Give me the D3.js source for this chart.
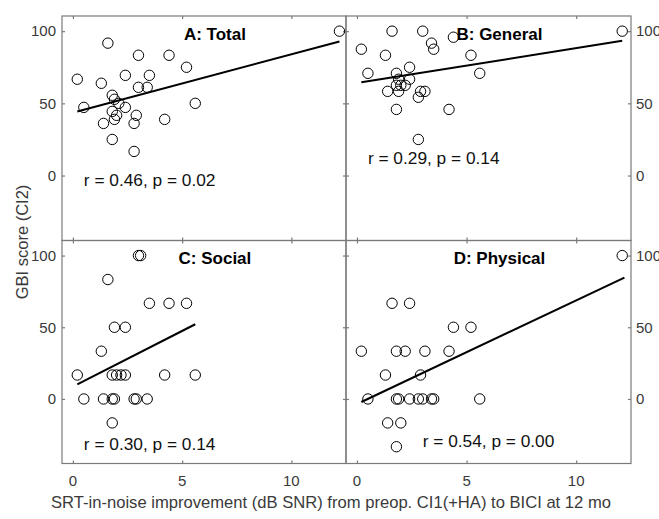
<!DOCTYPE html>
<html>
<head>
<meta charset="utf-8">
<script src="https://cdn.jsdelivr.net/npm/d3@7"></script>
<style>
  html, body { margin: 0; padding: 0; background: #fff; }
  svg { display: block; }
  text { font-family: "Liberation Sans", Arial, sans-serif; }
</style>
</head>
<body>
<svg id="chart" width="659" height="519"></svg>
<script>
// ---------------- data ----------------
const panelTitles = ["A: Total", "B: General", "C: Social", "D: Physical"];
const statLabels = ["r = 0.46, p = 0.02", "r = 0.29, p = 0.14", "r = 0.30, p = 0.14", "r = 0.54, p = 0.00"];
const xTicks = [0, 5, 10];
const yTicks = [0, 50, 100];

const totalX = [12.2, 1.6, 3.0, 4.4, 5.2, 0.2, 1.3, 2.4, 3.5, 3.0, 3.4, 1.8, 1.9, 0.5, 5.6, 2.4, 2.1, 1.8, 2.0, 2.9, 1.9, 1.4, 2.8, 4.2, 1.8, 2.8];
const totalY = [100, 91.7, 83.3, 83.3, 75, 66.7, 63.9, 69.4, 69.4, 61.1, 61.1, 55.6, 52.8, 47.2, 50, 47.2, 50, 44.4, 41.7, 41.7, 38.9, 36.1, 36.1, 38.9, 25, 16.7];

const generalX = [12.1, 1.6, 3.0, 4.4, 0.2, 1.3, 3.4, 3.5, 5.2, 0.5, 1.8, 2.4, 5.6, 2.4, 1.9, 1.8, 2.0, 2.2, 1.9, 1.4, 2.9, 3.1, 2.8, 1.8, 4.2, 2.8];
const generalY = [100, 100, 100, 95.8, 87.5, 83.3, 91.7, 87.5, 83.3, 70.8, 70.8, 75, 70.8, 66.7, 66.7, 62.5, 62.5, 62.5, 58.3, 58.3, 58.3, 58.3, 54.2, 45.8, 45.8, 25];

const socialX = [3.0, 3.1, 1.6, 3.5, 4.4, 5.2, 1.9, 2.4, 1.3, 0.2, 1.8, 2.0, 2.2, 2.4, 4.2, 5.6, 0.5, 1.4, 1.8, 1.9, 2.8, 2.9, 3.4, 1.8];
const socialY = [100, 100, 83.3, 66.7, 66.7, 66.7, 50, 50, 33.3, 16.7, 16.7, 16.7, 16.7, 16.7, 16.7, 16.7, 0, 0, 0, 0, 0, 0, 0, -16.7];

const physicalX = [12.1, 1.6, 2.4, 4.4, 5.2, 0.2, 1.8, 2.2, 3.1, 4.2, 1.3, 2.9, 0.5, 1.8, 1.9, 2.4, 2.8, 3.0, 3.4, 3.5, 5.6, 1.4, 2.0, 1.8];
const physicalY = [100, 66.7, 66.7, 50, 50, 33.3, 33.3, 33.3, 33.3, 33.3, 16.7, 16.7, 0, 0, 0, 0, 0, 0, 0, 0, 0, -16.7, -16.7, -33.3];

// fitted regression line end points
const fitX = [[0.2, 12.2], [0.2, 12.1], [0.2, 5.6], [0.2, 12.2]];
const fitY = [[44.4, 92.8], [64.6, 93.3], [10.1, 52.1], [-2.1, 84.6]];

const seriesX = [totalX, generalX, socialX, physicalX];
const seriesY = [totalY, generalY, socialY, physicalY];

// ---------------- layout ----------------
const svg = d3.select("#chart");
const colL = [62, 346], colR = [346, 631];
const rowT = [16, 240.5], rowB = [240.5, 463.5];
const xDomain = [-0.5, 12.5], yDomain = [-45, 110.5];
const borderColor = "#7a7a7a";
const tickLen = 3;

const titlePos = {x: 6.5, y: 98};
const statPos = [{x: 0.5, y: -3}, {x: 0.5, y: 12}, {x: 0.5, y: -31.5}, {x: 3.0, y: -29.5}];

for (let i = 0; i < 4; i++) {
  const c = i % 2, r = Math.floor(i / 2);
  const x = d3.scaleLinear().domain(xDomain).range([colL[c], colR[c]]);
  const y = d3.scaleLinear().domain(yDomain).range([rowB[r], rowT[r]]);
  const g = svg.append("g");

  // frame
  g.append("rect")
    .attr("x", colL[c]).attr("y", rowT[r])
    .attr("width", colR[c] - colL[c]).attr("height", rowB[r] - rowT[r])
    .attr("fill", "none").attr("stroke", borderColor).attr("stroke-width", 1.2);

  // ticks (inward on all four sides)
  const axB = d3.axisBottom(x).tickValues(xTicks).tickSizeInner(-tickLen).tickSizeOuter(0).tickFormat("");
  const axT = d3.axisTop(x).tickValues(xTicks).tickSizeInner(-tickLen).tickSizeOuter(0).tickFormat("");
  const axL = d3.axisLeft(y).tickValues(yTicks).tickSizeInner(-tickLen).tickSizeOuter(0).tickFormat("");
  const axR = d3.axisRight(y).tickValues(yTicks).tickSizeInner(-tickLen).tickSizeOuter(0).tickFormat("");
  [[axB, `translate(0,${rowB[r]})`], [axT, `translate(0,${rowT[r]})`],
   [axL, `translate(${colL[c]},0)`], [axR, `translate(${colR[c]},0)`]].forEach(([ax, tr]) => {
    const a = g.append("g").attr("transform", tr).call(ax);
    a.select(".domain").remove();
    a.selectAll("line").attr("stroke", borderColor).attr("stroke-width", 1.2);
  });

  // tick labels
  if (r === 1) {
    g.selectAll(".xl").data(xTicks).enter().append("text")
      .attr("x", d => x(d)).attr("y", 481)
      .attr("dy", "0.35em").attr("text-anchor", "middle")
      .attr("font-size", 15).attr("fill", "#3a3a3a").text(d => d);
  }
  g.selectAll(".yl").data(yTicks).enter().append("text")
    .attr("x", c === 0 ? colL[c] - 6 : colR[c] + 5)
    .attr("y", d => y(d)).attr("dy", "0.35em")
    .attr("text-anchor", c === 0 ? "end" : "start")
    .attr("font-size", 15).attr("fill", "#3a3a3a").text(d => d);

  // regression line
  const line = d3.line().x(d => x(d[0])).y(d => y(d[1]));
  g.append("path")
    .datum(d3.zip(fitX[i], fitY[i]))
    .attr("d", line).attr("fill", "none")
    .attr("stroke", "#000").attr("stroke-width", 2);

  // points
  g.selectAll("circle").data(d3.zip(seriesX[i], seriesY[i])).enter().append("circle")
    .attr("cx", d => x(d[0])).attr("cy", d => y(d[1])).attr("r", 5.2)
    .attr("fill", "none").attr("stroke", "#000").attr("stroke-width", 1);

  // title
  g.append("text")
    .attr("x", x(titlePos.x)).attr("y", y(titlePos.y)).attr("dy", "0.35em")
    .attr("text-anchor", "middle").attr("font-size", 17).attr("font-weight", "bold")
    .attr("fill", "#000").text(panelTitles[i]);

  // stats text
  g.append("text")
    .attr("x", x(statPos[i].x)).attr("y", y(statPos[i].y)).attr("dy", "0.35em")
    .attr("text-anchor", "start").attr("font-size", 17.3)
    .attr("fill", "#111").text(statLabels[i]);
}

// axis labels
svg.append("text")
  .attr("transform", "translate(22,242) rotate(-90)")
  .attr("text-anchor", "middle").attr("dy", "0.35em")
  .attr("font-size", 16.5).attr("fill", "#3a3a3a")
  .text("GBI score (CI2)");

svg.append("text")
  .attr("x", 331).attr("y", 502).attr("dy", "0.35em")
  .attr("text-anchor", "middle")
  .attr("font-size", 16.6).attr("fill", "#3a3a3a")
  .text("SRT-in-noise improvement (dB SNR) from preop. CI1(+HA) to BICI at 12 mo");
</script>
</body>
</html>
